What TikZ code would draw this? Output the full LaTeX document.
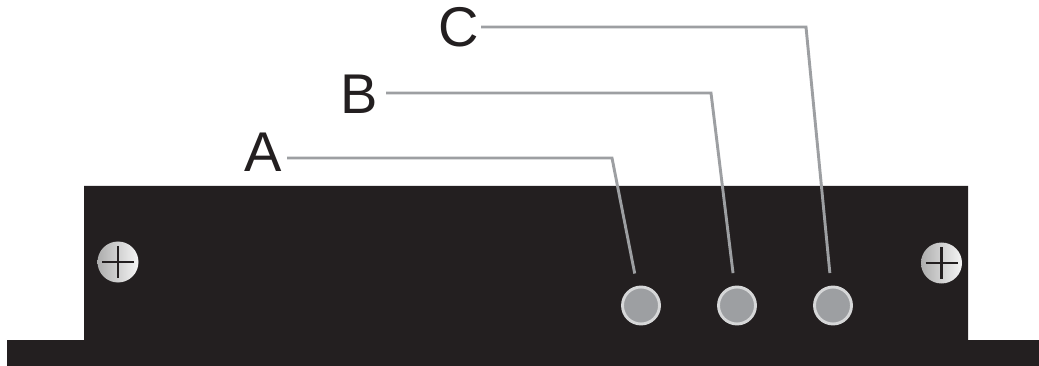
\documentclass[tikz,border=0pt]{standalone}
\usepackage{fontspec}
\setmainfont{Liberation Sans}
\definecolor{panel}{HTML}{231F20}
\definecolor{leader}{HTML}{9D9FA2}
\definecolor{rim}{HTML}{D6D7D8}
\tikzset{
  panelfill/.style={fill=panel,draw=none},
  callout/.style={font=\fontsize{56}{56}\selectfont,text=panel,inner sep=0pt,anchor=east},
  leaderline/.style={draw=leader,line width=2.9pt,line join=miter,shorten >=32.6pt},
  led/.style={circle,draw=rim,fill=leader,line width=2.9pt,minimum size=37pt,inner sep=0pt},
  screwhead/.style={circle,draw=none,left color=black!32,right color=black!4,minimum size=41pt,inner sep=0pt},
  slot/.style={draw=panel,line width=2.9pt}
}
\begin{document}
\begin{tikzpicture}[x=1pt,y=-1pt]
\useasboundingbox (0,0) rectangle (1039,366);
\fill[white] (0,0) rectangle (1039,366);
\path[panelfill] (84,186) -- (968,186) -- (968,340) -- (1039,340) -- (1039,366) -- (7,366) -- (7,340) -- (84,340) -- cycle;
\node[screwhead] (screwL) at (118,262) {};
\node[screwhead] (screwR) at (941.5,263) {};
\draw[slot] (102,262) -- (134,262) (118,246) -- (118,278);
\draw[slot] (925.5,263) -- (957.5,263) (941.5,247) -- (941.5,279);
\node[led] (ledA) at (641,305.5) {};
\node[led] (ledB) at (737,305.5) {};
\node[led] (ledC) at (833,305.5) {};
\node[callout] (labA) at (282,152.5) {A};
\node[callout] (labB) at (378.5,94) {B};
\node[callout] (labC) at (479,27) {C};
\coordinate (startA) at (287,158);
\coordinate (startB) at (386,93);
\coordinate (startC) at (481,27);
\coordinate (elbowA) at (612,158);
\coordinate (elbowB) at (711,93);
\coordinate (elbowC) at (806,27);
\draw[leaderline] (startA) -- (elbowA) -- (ledA.center);
\draw[leaderline] (startB) -- (elbowB) -- (ledB.center);
\draw[leaderline] (startC) -- (elbowC) -- (ledC.center);
\end{tikzpicture}
\end{document}
